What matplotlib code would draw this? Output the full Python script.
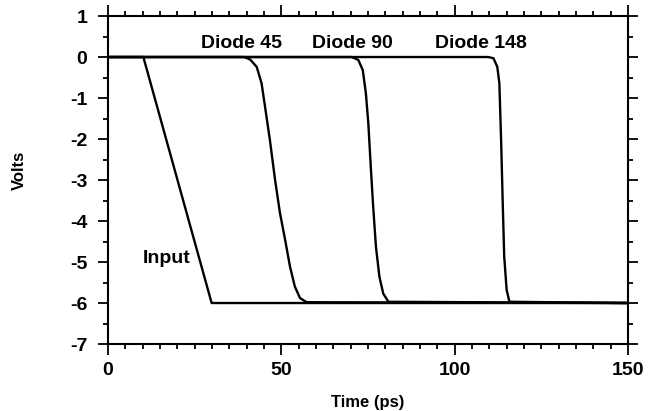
"""Diode line step response: input ramp vs. output at diodes 45, 90, 148."""
import matplotlib
matplotlib.use("Agg")
import matplotlib.pyplot as plt
from matplotlib.ticker import MultipleLocator

plt.rcParams['font.family'] = ['Liberation Sans', 'DejaVu Sans']
plt.rcParams['font.weight'] = 'bold'
plt.rcParams['axes.unicode_minus'] = False

# values (time in ps, volts)
input_t = [0, 10.2, 29.9, 150]
input_v = [0, 0, -6.0, -6.0]

diode45_t = [0, 39.3, 41.0, 42.9, 44.3, 45.3, 46.7, 48.2, 49.6, 51.1, 52.5, 53.9, 55.4, 57.3, 150]
diode45_v = [0, 0, -0.06, -0.24, -0.64, -1.21, -2.02, -3.0, -3.8, -4.46, -5.11, -5.6, -5.88, -5.98, -6.0]

diode90_t = [0, 70.3, 72.2, 73.5, 74.4, 75.1, 75.8, 76.5, 77.3, 78.3, 79.4, 80.9, 150]
diode90_v = [0, 0, -0.07, -0.32, -0.89, -1.62, -2.67, -3.65, -4.63, -5.36, -5.77, -5.97, -6.0]

diode148_t = [0, 109.7, 111.2, 112.3, 112.9, 113.4, 113.9, 114.3, 115.0, 115.8, 150]
diode148_v = [0, 0, -0.03, -0.24, -0.64, -2.02, -3.65, -4.87, -5.68, -5.97, -6.0]

labels = ["Input", "Diode 45", "Diode 90", "Diode 148"]
label_t = [16.9, 38.6, 70.4, 107.6]
label_v = [-4.92, 0.33, 0.33, 0.33]

fig = plt.figure(figsize=(6.49, 4.11), dpi=100)
ax = fig.add_axes([0.1664, 0.163, 0.8012, 0.798])

for t, v in [(input_t, input_v), (diode45_t, diode45_v),
             (diode90_t, diode90_v), (diode148_t, diode148_v)]:
    ax.plot(t, v, color="black", linewidth=1.7, solid_joinstyle="round")

for name, t, v in zip(labels, label_t, label_v):
    ax.text(t, v, name, ha="center", va="center", fontsize=14, fontweight="bold")

ax.set_xlim(0, 150)
ax.set_ylim(-7, 1)
ax.xaxis.set_major_locator(MultipleLocator(50))
ax.xaxis.set_minor_locator(MultipleLocator(5))
ax.yaxis.set_major_locator(MultipleLocator(1))
ax.yaxis.set_minor_locator(MultipleLocator(0.5))

ax.tick_params(which="both", direction="out", top=True, right=True, width=1.3)
ax.tick_params(which="major", length=8, labelsize=14, pad=5)
ax.tick_params(axis="y", which="major", length=7, pad=8)
ax.tick_params(which="minor", length=3.5)
for s in ax.spines.values():
    s.set_linewidth(1.5)

ax.set_xlabel("Time (ps)", fontsize=12, fontweight="bold", va="center")
ax.set_ylabel("Volts", fontsize=12, fontweight="bold", va="center")
ax.xaxis.set_label_coords(0.5, -0.177)
ax.yaxis.set_label_coords(-0.171, 0.53)

fig.savefig("out.png", dpi=100)
